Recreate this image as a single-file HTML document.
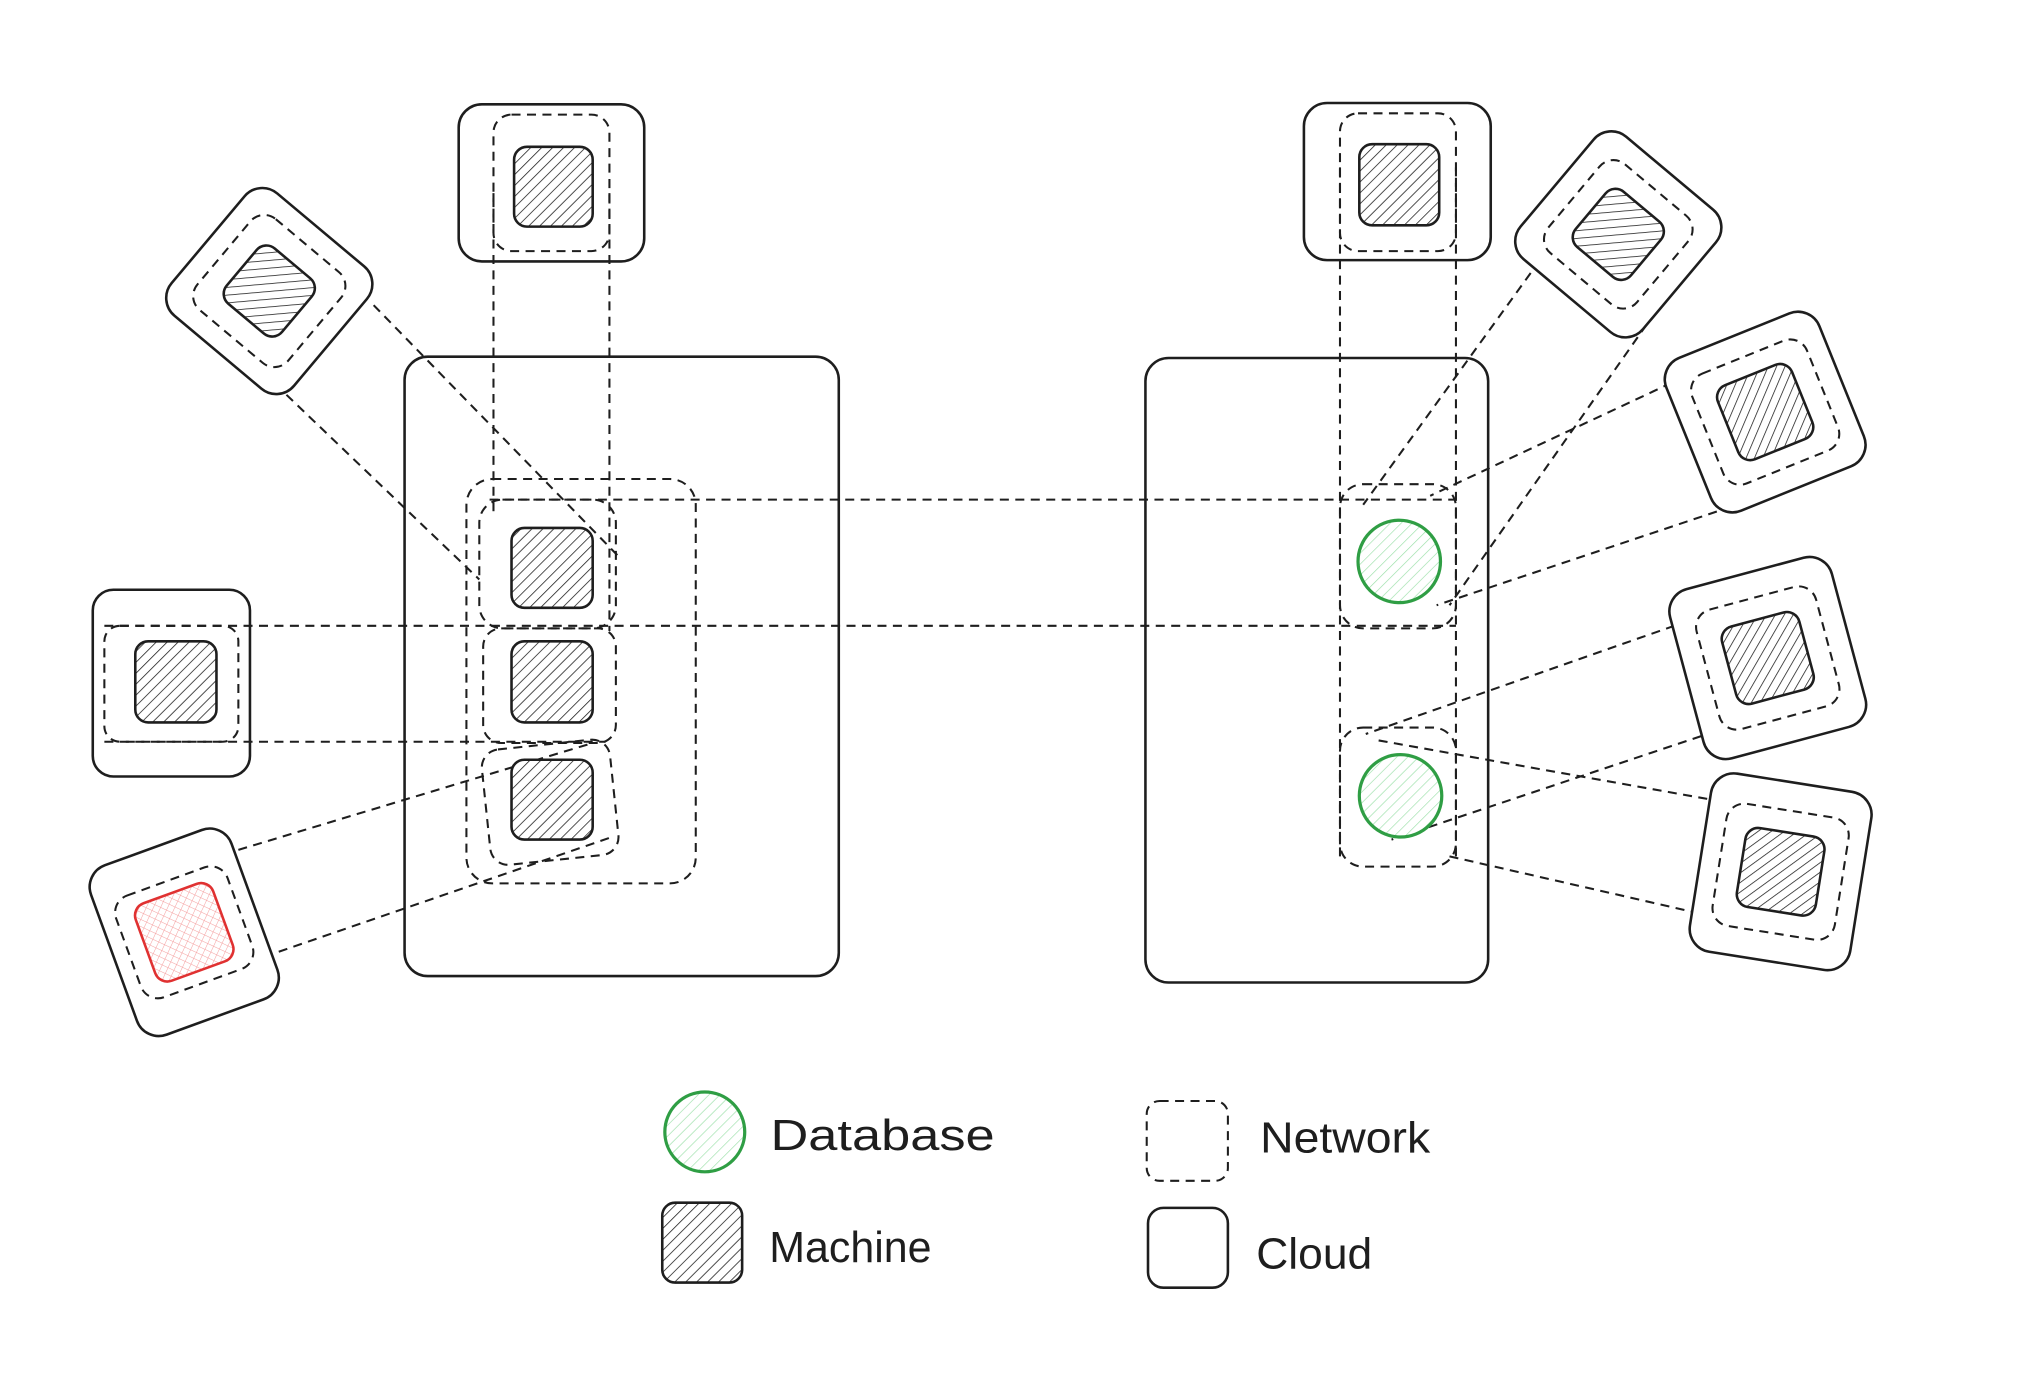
<!DOCTYPE html>
<html><head><meta charset="utf-8"><style>
html,body{margin:0;padding:0;background:#fff;}
svg{display:block;}
text{font-family:"Liberation Sans",sans-serif;font-size:34px;fill:#1e1e1e;}
</style></head><body>
<svg width="2019" height="1383" viewBox="0 0 1567 1074" preserveAspectRatio="none" xmlns="http://www.w3.org/2000/svg">
<defs>
<pattern id="h" width="6" height="6" patternUnits="userSpaceOnUse" patternTransform="rotate(45)"><rect width="6" height="6" fill="#fff"/><line x1="0" y1="0" x2="0" y2="6" stroke="#1e1e1e" stroke-width="1.2"/></pattern>
<pattern id="g" width="6" height="6" patternUnits="userSpaceOnUse" patternTransform="rotate(45)"><rect width="6" height="6" fill="#fff"/><line x1="0" y1="0" x2="0" y2="6" stroke="#9be0a8" stroke-width="1"/></pattern>
<pattern id="r" width="5" height="5" patternUnits="userSpaceOnUse" patternTransform="rotate(45)"><rect width="5" height="5" fill="#fff"/><line x1="0" y1="0" x2="0" y2="5" stroke="#f5a0a0" stroke-width="0.8"/><line x1="0" y1="0" x2="5" y2="0" stroke="#f5a0a0" stroke-width="0.8"/></pattern>
</defs>
<g fill="none" stroke="#1e1e1e" stroke-width="2">
<rect x="314" y="277" width="337" height="481" rx="18"/>
<rect x="889" y="278" width="266" height="485" rx="18"/>
</g>
<g fill="none" stroke="#1e1e1e" stroke-width="1.6" stroke-dasharray="7 5">
<rect x="362" y="372" width="178" height="314" rx="20"/>
<rect x="372" y="388" width="106" height="100" rx="18"/>
<rect x="375" y="488" width="103" height="89" rx="14"/>
<rect x="377" y="578" width="100" height="90" rx="14" transform="rotate(-6 427 623)"/>
<rect x="1040" y="376" width="90" height="112" rx="18"/>
<rect x="1040" y="565" width="90" height="108" rx="18"/>
<line x1="1040" y1="130" x2="1040" y2="670"/>
<line x1="1130" y1="130" x2="1130" y2="670"/>
<line x1="383" y1="150" x2="383" y2="400"/>
<line x1="473" y1="150" x2="473" y2="490"/>
<line x1="380" y1="388" x2="1130" y2="388"/>
<line x1="81" y1="486" x2="1130" y2="486"/>
<line x1="81" y1="576" x2="470" y2="576"/>
<line x1="290" y1="237" x2="480" y2="432"/>
<line x1="205" y1="290" x2="372" y2="450"/>
<line x1="185" y1="660" x2="460" y2="577"/>
<line x1="205" y1="743" x2="475" y2="650"/>
<line x1="1188" y1="212" x2="1058" y2="392"/>
<line x1="1278" y1="252" x2="1125" y2="470"/>
<line x1="1330" y1="282" x2="1110" y2="385"/>
<line x1="1378" y1="382" x2="1115" y2="470"/>
<line x1="1345" y1="470" x2="1060" y2="570"/>
<line x1="1400" y1="545" x2="1080" y2="652"/>
<line x1="1070" y1="575" x2="1435" y2="640"/>
<line x1="1125" y1="665" x2="1322" y2="710"/>
</g>
<g stroke="#1e1e1e" stroke-width="2" fill="url(#h)">
<rect x="397" y="410" width="63" height="62" rx="10"/>
<rect x="397" y="498" width="63" height="63" rx="10"/>
<rect x="397" y="590" width="63" height="62" rx="10"/>
</g>
<g stroke="#2f9e44" stroke-width="2.5" fill="url(#g)">
<circle cx="1086" cy="436" r="32"/>
<circle cx="1087" cy="618" r="32"/>
</g>
<g fill="none" stroke="#1e1e1e" stroke-width="2">
<rect x="356" y="81" width="144" height="122" rx="18"/>
<rect x="1012" y="80" width="145" height="122" rx="18"/>
</g>
<g fill="none" stroke="#1e1e1e" stroke-width="1.6" stroke-dasharray="7 5">
<rect x="383" y="89" width="90" height="106" rx="14"/>
<rect x="1040" y="88" width="90" height="107" rx="14"/>
</g>
<g stroke="#1e1e1e" stroke-width="2" fill="url(#h)">
<rect x="399" y="114" width="61" height="62" rx="10"/>
<rect x="1055" y="112" width="62" height="63" rx="10"/>
</g>
<rect x="72" y="458" width="122" height="145" rx="16" fill="none" stroke="#1e1e1e" stroke-width="2"/>
<rect x="81" y="486" width="104" height="90" rx="12" fill="none" stroke="#1e1e1e" stroke-width="1.6" stroke-dasharray="7 5"/>
<rect x="105" y="498" width="63" height="63" rx="10" fill="url(#h)" stroke="#1e1e1e" stroke-width="2"/>
<g transform="translate(209 226) rotate(40)">
<rect x="-62" y="-62" width="124" height="124" rx="18" fill="#fff" stroke="#1e1e1e" stroke-width="2"/>
<rect x="-46" y="-46" width="92" height="92" rx="14" fill="none" stroke="#1e1e1e" stroke-width="1.6" stroke-dasharray="7 5"/>
<rect x="-28" y="-28" width="56" height="56" rx="10" fill="url(#h)" stroke="#1e1e1e" stroke-width="2"/>
</g>
<g transform="translate(143 724) rotate(-20)">
<rect x="-58" y="-70" width="116" height="140" rx="18" fill="#fff" stroke="#1e1e1e" stroke-width="2"/>
<rect x="-46" y="-42" width="92" height="84" rx="14" fill="none" stroke="#1e1e1e" stroke-width="1.6" stroke-dasharray="7 5"/>
<rect x="-32" y="-32" width="64" height="64" rx="10" fill="url(#r)" stroke="#e03131" stroke-width="2"/>
</g>
<g transform="translate(1256 182) rotate(40)">
<rect x="-62" y="-62" width="124" height="124" rx="18" fill="#fff" stroke="#1e1e1e" stroke-width="2"/>
<rect x="-45" y="-45" width="90" height="90" rx="14" fill="none" stroke="#1e1e1e" stroke-width="1.6" stroke-dasharray="7 5"/>
<rect x="-28" y="-28" width="56" height="56" rx="10" fill="url(#h)" stroke="#1e1e1e" stroke-width="2"/>
</g>
<g transform="translate(1370 320) rotate(-22)">
<rect x="-64" y="-64" width="128" height="128" rx="18" fill="#fff" stroke="#1e1e1e" stroke-width="2"/>
<rect x="-48" y="-46" width="96" height="92" rx="14" fill="none" stroke="#1e1e1e" stroke-width="1.6" stroke-dasharray="7 5"/>
<rect x="-31" y="-31" width="62" height="62" rx="10" fill="url(#h)" stroke="#1e1e1e" stroke-width="2"/>
</g>
<g transform="translate(1372 511) rotate(-15)">
<rect x="-65" y="-68" width="130" height="136" rx="18" fill="#fff" stroke="#1e1e1e" stroke-width="2"/>
<rect x="-48" y="-48" width="96" height="96" rx="14" fill="none" stroke="#1e1e1e" stroke-width="1.6" stroke-dasharray="7 5"/>
<rect x="-31" y="-31" width="62" height="62" rx="10" fill="url(#h)" stroke="#1e1e1e" stroke-width="2"/>
</g>
<g transform="translate(1382 677) rotate(9)">
<rect x="-63" y="-70" width="126" height="140" rx="18" fill="#fff" stroke="#1e1e1e" stroke-width="2"/>
<rect x="-48" y="-48" width="96" height="96" rx="14" fill="none" stroke="#1e1e1e" stroke-width="1.6" stroke-dasharray="7 5"/>
<rect x="-31" y="-31" width="62" height="62" rx="10" fill="url(#h)" stroke="#1e1e1e" stroke-width="2"/>
</g>
<circle cx="547" cy="879" r="31" fill="url(#g)" stroke="#2f9e44" stroke-width="2.5"/>
<text x="598" y="893" textLength="174" lengthAdjust="spacingAndGlyphs">Database</text>
<rect x="890" y="855" width="63" height="62" rx="10" fill="none" stroke="#1e1e1e" stroke-width="1.6" stroke-dasharray="7 5"/>
<text x="978" y="895" textLength="132" lengthAdjust="spacingAndGlyphs">Network</text>
<rect x="514" y="934" width="62" height="62" rx="10" fill="url(#h)" stroke="#1e1e1e" stroke-width="2"/>
<text x="597" y="980" textLength="126" lengthAdjust="spacingAndGlyphs">Machine</text>
<rect x="891" y="938" width="62" height="62" rx="12" fill="none" stroke="#1e1e1e" stroke-width="2"/>
<text x="975" y="985" textLength="90" lengthAdjust="spacingAndGlyphs">Cloud</text>
</svg>
</body></html>
